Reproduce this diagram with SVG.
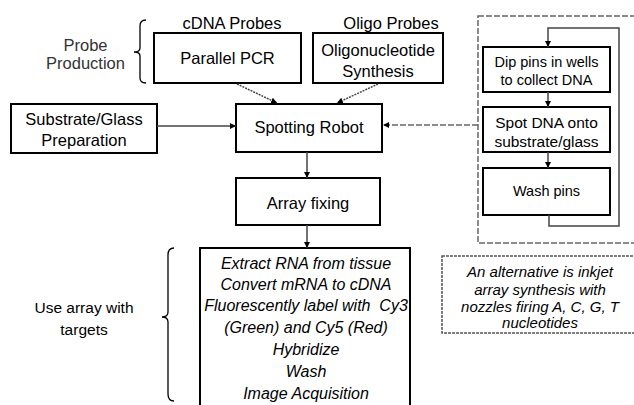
<svg xmlns="http://www.w3.org/2000/svg" width="634" height="405" viewBox="0 0 634 405">
<style>
text{font-family:"Liberation Sans",Arial,sans-serif;fill:#000;text-anchor:middle}
.t16{font-size:16.5px}
.t15{font-size:15.5px}
.t14{font-size:14.5px}
.gr{fill:#333}
.it{font-style:italic;font-size:16px}
.it15{font-style:italic;font-size:15px}
.box{fill:#fff;stroke:#000;stroke-width:2}
.conn{fill:none;stroke:#444;stroke-width:1.5}
.dot{fill:none;stroke:#444;stroke-width:1.5;stroke-dasharray:2 1}
.dash{fill:none;stroke:#666;stroke-width:1.5;stroke-dasharray:6 2}
.fdash{fill:none;stroke:#555;stroke-width:1.5;stroke-dasharray:3 1}
.brace{fill:none;stroke:#000;stroke-width:1.3}
</style>
<defs>
<marker id="ah" viewBox="0 0 10 10" refX="10" refY="5" markerWidth="6" markerHeight="6" markerUnits="userSpaceOnUse" orient="auto">
<path d="M0,0 L10,5 L0,10 z" fill="#000"/>
</marker>
</defs>

<g id="labels">
<text class="t16 gr" x="85.5" y="51">Probe</text>
<text class="t16 gr" x="85.5" y="69">Production</text>
<path class="brace" d="M146,20 Q140,20 140,26 L140,48 Q140,52 134,52 Q140,52 140,56 L140,78 Q140,83 146,83"/>
<text class="t16" x="232" y="29">cDNA Probes</text>
<text class="t16" x="391" y="29">Oligo Probes</text>
<text class="t15" x="84" y="313">Use array with</text>
<text class="t15" x="84" y="335">targets</text>
<path class="brace" d="M174,248 Q168,248 168,255 L168,312 Q168,317 162,317 Q168,317 168,322 L168,394 Q168,401 174,401"/>
</g>

<g id="pcr">
<rect class="box" x="154" y="33" width="147" height="50"/>
<text class="t16" x="227.5" y="64">Parallel PCR</text>
</g>
<g id="oligo">
<rect class="box" x="313" y="33" width="130" height="50"/>
<text class="t16" x="378" y="56">Oligonucleotide</text>
<text class="t16" x="378" y="77">Synthesis</text>
</g>
<g id="substrate">
<rect class="box" x="11" y="104" width="146" height="49"/>
<text class="t16" x="84" y="125">Substrate/Glass</text>
<text class="t16" x="84" y="146">Preparation</text>
</g>
<g id="robot">
<rect class="box" x="236" y="104" width="146" height="48"/>
<text class="t16" x="309" y="133">Spotting Robot</text>
</g>
<g id="fixing">
<rect class="box" x="236" y="178" width="144" height="47"/>
<text class="t16" x="308" y="209">Array fixing</text>
</g>
<g id="targets">
<rect class="box" x="200" y="248" width="210" height="162"/>
<text class="it" x="306" y="269">Extract RNA from tissue</text>
<text class="it" x="306" y="290">Convert mRNA to cDNA</text>
<text class="it" x="306" y="311" xml:space="preserve">Fluorescently label with  Cy3</text>
<text class="it" x="306" y="333">(Green) and Cy5 (Red)</text>
<text class="it" x="306" y="355">Hybridize</text>
<text class="it" x="306" y="377">Wash</text>
<text class="it" x="306" y="399">Image Acquisition</text>
</g>

<g id="spotting-loop">
<rect class="dash" x="478" y="16" width="170" height="227"/>
</g>
<g id="dip">
<rect class="box" x="483" y="47" width="127" height="45"/>
<text class="t14" x="546.5" y="67">Dip pins in wells</text>
<text class="t14" x="546.5" y="85">to collect DNA</text>
</g>
<g id="spot">
<rect class="box" x="483" y="107" width="127" height="45"/>
<text class="t15" x="546.5" y="128">Spot DNA onto</text>
<text class="t15" x="546.5" y="147">substrate/glass</text>
</g>
<g id="wash">
<rect class="box" x="483" y="168" width="127" height="47"/>
<text class="t14" x="546.5" y="196">Wash pins</text>
</g>
<g id="inkjet">
<rect class="fdash" x="442" y="256" width="200" height="77"/>
<text class="it15" x="540" y="277">An alternative is inkjet</text>
<text class="it15" x="540" y="295">array synthesis with</text>
<text class="it15" x="540" y="312">nozzles firing A, C, G, T</text>
<text class="it15" x="540" y="328">nucleotides</text>
</g>

<g id="connectors">
<path class="dot" d="M237,84 L277,103" marker-end="url(#ah)"/>
<path class="dot" d="M378,84 L337,103" marker-end="url(#ah)"/>
<path class="conn" d="M157,126 L236,126" marker-end="url(#ah)"/>
<path class="conn" d="M307,152 L307,178" marker-end="url(#ah)"/>
<path class="conn" d="M307,225 L307,248" marker-end="url(#ah)"/>
<path class="dash" d="M478,125 L383,125" marker-end="url(#ah)"/>
<path class="conn" d="M548,92 L548,107" marker-end="url(#ah)"/>
<path class="conn" d="M548,152 L548,168" marker-end="url(#ah)"/>
<path class="conn" d="M549,215 L549,226 L619,226 L619,28 L548,28 L548,47" marker-end="url(#ah)"/>
</g>
</svg>
